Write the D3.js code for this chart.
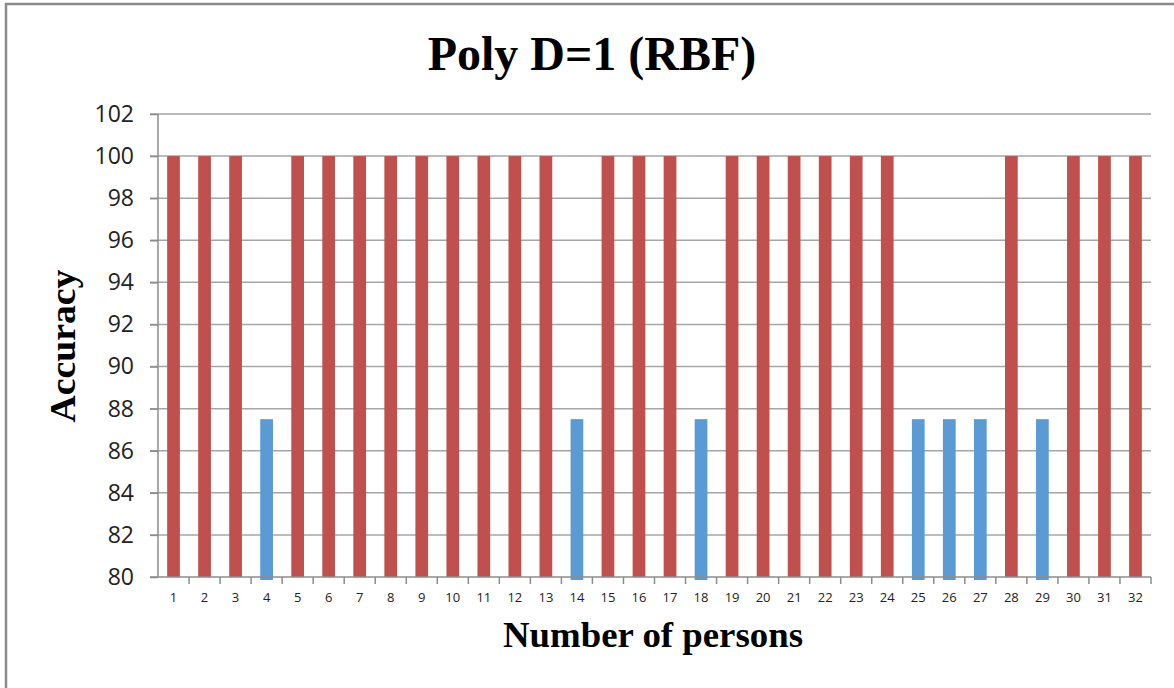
<!DOCTYPE html>
<html>
	<head>
		<title>Poly D=1 (RBF)</title>
		<style>
		body {
			margin: 0;
			background: #fff;
		}

		.grid line {
			stroke: #a6a6a6;
			stroke-width: 1.5px;
		}

		.axis path,
		.axis line {
			stroke: #8c8c8c;
			stroke-width: 1.5px;
		}

		.axis text {
			font-family: "Open Sans", sans-serif;
			fill: #222;
		}

		.title {
			font-family: "Liberation Serif", "Times New Roman", serif;
			font-weight: bold;
			fill: #000;
		}
		</style>
		<script src="https://d3js.org/d3.v7.min.js"></script>
	</head>
	<body>
		<svg id="chart" width="1174" height="688"></svg>

		<script>
		var persons = d3.range(1, 33);
		var accuracy = [
			100, 100, 100, 87.5, 100, 100, 100, 100,
			100, 100, 100, 100, 100, 87.5, 100, 100,
			100, 87.5, 100, 100, 100, 100, 100, 100,
			87.5, 87.5, 87.5, 100, 87.5, 100, 100, 100
		];
		var yTicks = [80, 82, 84, 86, 88, 90, 92, 94, 96, 98, 100, 102];

		var svg = d3.select('#chart'),
			margin = { left: 158, right: 23, top: 114, bottom: 111 },
			width = 1174 - margin.left - margin.right,
			height = 688 - margin.top - margin.bottom;

		// chart frame (only left and top edges are inside the picture)
		svg.append('path')
			.attr('d', 'M6,688V4H1174')
			.attr('fill', 'none')
			.attr('stroke', '#8a8a8a')
			.attr('stroke-width', 2.5);

		var g = svg.append('g').attr('transform', 'translate(' + margin.left + ',' + margin.top + ')');

		var x = d3.scaleBand().domain(persons).range([0, width]).paddingInner(0.59).paddingOuter(0.295);
		var xEdges = d3.scaleBand().domain(persons).range([0, width]);
		var y = d3.scaleLinear().domain([80, 102]).range([height, 0]);

		g.append('g')
			.attr('class', 'grid')
			.selectAll('line')
			.data(yTicks.slice(1))
			.join('line')
			.attr('x1', -8)
			.attr('x2', width)
			.attr('y1', function (d) { return y(d); })
			.attr('y2', function (d) { return y(d); });

		g.append('g')
			.selectAll('rect')
			.data(accuracy)
			.join('rect')
			.attr('x', function (d, i) { return x(persons[i]); })
			.attr('y', function (d) { return y(d); })
			.attr('width', x.bandwidth())
			.attr('height', function (d) { return d < 100 ? height - y(d) + 3 : height - y(d); })
			.attr('fill', function (d) { return d < 100 ? '#5b9bd5' : '#c0504d'; });

		var yAxis = g.append('g')
			.attr('class', 'axis')
			.call(d3.axisLeft(y).tickValues(yTicks).tickSize(8).tickPadding(16));
		yAxis.selectAll('text').style('font-size', '23px');
		yAxis.select('.domain').attr('d', 'M0,' + y(102) + 'V' + y(80));

		// x axis: ticks on the band edges
		var xAxis = g.append('g')
			.attr('class', 'axis')
			.attr('transform', 'translate(0,' + height + ')');
		xAxis.append('line')
			.attr('x1', -8)
			.attr('x2', width)
			.attr('y1', 0)
			.attr('y2', 0);
		xAxis.selectAll('.edge')
			.data(persons)
			.join('line')
			.attr('class', 'edge')
			.attr('x1', function (d) { return xEdges(d) + xEdges.bandwidth(); })
			.attr('x2', function (d) { return xEdges(d) + xEdges.bandwidth(); })
			.attr('y1', 0)
			.attr('y2', 7);
		xAxis.selectAll('text')
			.data(persons)
			.join('text')
			.attr('x', function (d) { return xEdges(d) + xEdges.bandwidth() / 2; })
			.attr('y', 25)
			.attr('text-anchor', 'middle')
			.style('font-size', '13px')
			.text(function (d) { return d; });

		svg.append('text')
			.attr('class', 'title')
			.attr('x', 592)
			.attr('y', 70)
			.attr('text-anchor', 'middle')
			.style('font-size', '48px')
			.text('Poly D=1 (RBF)');

		svg.append('text')
			.attr('class', 'title')
			.attr('x', 653)
			.attr('y', 647)
			.attr('text-anchor', 'middle')
			.attr('textLength', 300)
			.attr('lengthAdjust', 'spacingAndGlyphs')
			.style('font-size', '35px')
			.text('Number of persons');

		svg.append('text')
			.attr('class', 'title')
			.attr('transform', 'translate(75,346) rotate(-90)')
			.attr('text-anchor', 'middle')
			.attr('textLength', 153)
			.attr('lengthAdjust', 'spacingAndGlyphs')
			.style('font-size', '35px')
			.text('Accuracy');
		</script>
	</body>
</html>
